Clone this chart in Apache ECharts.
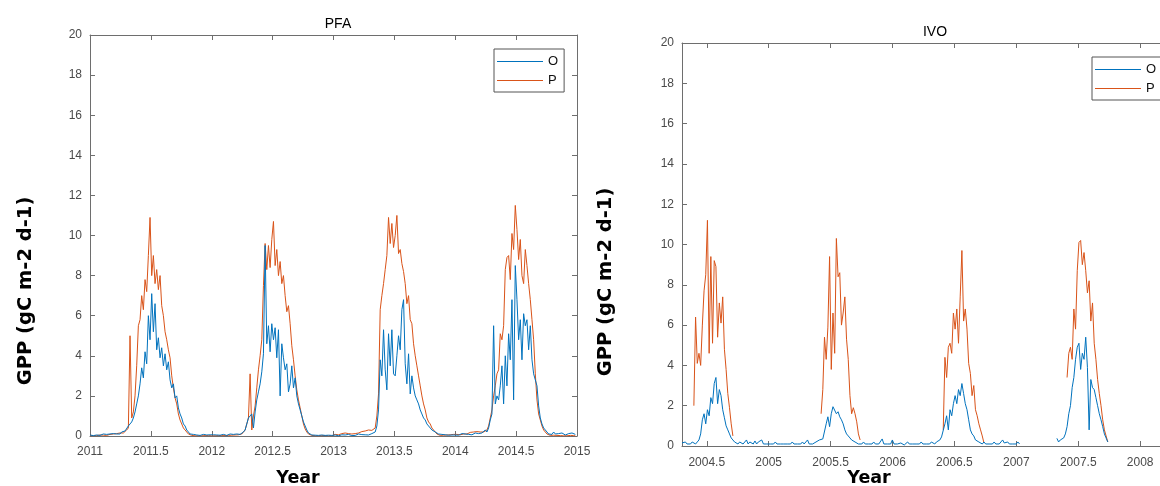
<!DOCTYPE html>
<html><head><meta charset="utf-8">
<script src="https://cdn.jsdelivr.net/npm/echarts@6/dist/echarts.min.js"></script>
<style>html,body{margin:0;padding:0;background:#fff}#c{width:1160px;height:486px}</style>
</head><body><div id="c"></div>
<script>
// sampling: one value every 5 days (1/73 year)
const step = 1 / 73;
const pfaStart = 2011;
const ivoStart = 2004.3;
const gap = n => Array(n).fill(null);

// PFA observed GPP (O)
const pfaO = [
  // 2011
  0.05,0.1,0.02,0.08,0.05,0.12,0.03,0.06,0.1,0.04,0.08,0.05,0.1,0.06,0.12,0.08,0.1,0.15,0.1,0.2,0.15,0.25,
  0.3,0.5,0.6,0.7,0.9,1.2,1.6,2.0,2.6,3.4,2.9,4.2,3.6,6.0,4.8,7.1,5.2,6.6,4.3,4.9,3.9,4.4,3.5,4.1,3.3,3.7,2.8,2.4,2.6,1.9,2.0,1.4,1.1,0.9,0.6,0.5,0.3,0.2,
  0.1,0.05,0.08,0.02,0.05,0.1,0.03,0.05,0.08,0.02,0.05,0.03,0.06,
  // 2012
  0.03,0.06,0.02,0.05,0.1,0.04,0.02,0.08,0.05,0.03,0.06,0.1,0.05,0.08,0.04,0.1,0.12,0.08,0.15,0.2,
  0.3,0.6,0.9,1.0,1.1,0.4,1.2,1.8,2.2,2.6,3.2,4.1,9.5,4.6,5.5,4.2,5.6,4.8,5.4,3.9,5.3,2.0,4.6,3.9,3.3,3.6,2.2,2.6,3.5,2.4,2.9,2.0,1.6,1.3,1.0,0.7,0.5,0.3,0.15,
  0.1,0.05,0.02,0.04,0.01,0.03,0.02,0.05,0.01,0.03,0.02,0.04,0.02,0.03,
  // 2013
  0.02,0.05,0.03,0.01,0.04,0.06,0.02,0.05,0.03,0.08,0.04,0.02,0.06,0.03,0.05,0.1,0.04,0.07,0.03,0.06,0.1,0.05,0.08,0.12,
  0.15,0.2,0.5,1.3,3.8,3.0,5.3,3.3,2.3,5.1,3.5,5.3,3.1,3.0,4.0,5.0,4.3,6.3,6.8,3.6,2.6,4.1,2.1,3.0,2.4,2.0,1.8,1.6,1.3,1.1,0.9,0.8,0.6,0.5,0.4,0.3,0.3,0.2,0.15,
  0.1,0.05,0.08,0.03,0.06,0.1,0.04,0.08,0.05,0.1,
  // 2014
  0.05,0.1,0.04,0.08,0.12,0.06,0.1,0.05,0.08,0.12,0.06,0.1,0.15,0.08,0.12,0.1,0.15,
  0.2,0.3,0.2,0.4,0.8,1.1,5.5,1.6,2.0,1.8,2.5,3.5,1.6,4.0,2.5,5.1,3.8,6.8,1.8,8.5,6.8,4.8,5.8,3.8,6.1,5.5,5.8,4.3,5.5,3.8,3.1,2.8,2.5,1.5,0.9,0.6,0.4,0.3,0.2,
  0.1,0.15,0.08,0.2,0.1,0.05,0.12,0.08,0.15,0.1,0.05,0.1,0.12,0.06,0.15,0.1,0.08
];

// PFA predicted GPP (P)
const pfaP = [
  // 2011
  0.02,0.03,0.01,0.05,0.02,0.03,0.05,0.02,0.04,0.06,0.03,0.05,0.08,0.05,0.1,0.08,0.12,0.1,0.15,0.18,0.15,0.2,
  0.3,0.4,5.0,0.9,1.2,2.0,3.5,5.5,5.8,7.0,6.3,7.8,7.2,9.0,10.9,8.0,9.0,7.6,8.3,7.3,8.0,6.5,6.0,5.2,4.8,4.3,3.9,3.0,2.4,1.9,1.6,1.1,0.8,0.6,0.4,0.3,0.2,0.1,
  0.05,0.03,0.02,0.01,0.02,0.01,0.02,0.01,0.01,0.02,0.01,0.02,0.01,
  // 2012
  0.01,0.02,0.01,0.03,0.02,0.01,0.02,0.03,0.02,0.01,0.03,0.02,0.04,0.03,0.05,0.04,0.06,0.08,0.1,0.15,
  0.3,0.6,0.9,3.1,0.3,1.0,1.5,2.4,3.3,4.0,4.8,7.5,9.6,8.3,9.5,8.4,9.8,10.7,8.5,9.3,8.0,8.7,7.6,8.0,7.0,6.2,6.5,5.6,4.5,3.8,3.0,2.3,1.8,1.4,1.0,0.6,0.35,0.2,0.1,
  0.05,0.03,0.02,0.01,0.02,0.01,0.01,0.02,0.01,0.02,0.01,0.01,0.02,0.01,
  // 2013
  0.05,0.08,0.1,0.06,0.1,0.12,0.08,0.15,0.1,0.12,0.15,0.1,0.18,0.12,0.2,0.15,0.18,0.22,0.15,0.25,0.2,0.3,0.22,0.28,
  0.3,0.4,1.0,2.1,6.3,7.0,7.6,8.3,9.0,10.9,9.6,10.6,9.4,10.0,11.0,9.1,9.3,8.6,8.2,7.6,6.6,7.0,5.8,5.6,4.6,4.0,3.5,3.0,2.5,2.0,1.6,1.3,0.9,0.7,0.6,0.4,0.3,0.2,0.1,
  0.05,0.03,0.02,0.04,0.03,0.05,0.08,0.06,0.1,0.08,
  // 2014
  0.05,0.08,0.1,0.06,0.12,0.1,0.15,0.1,0.12,0.18,0.15,0.2,0.15,0.22,0.18,0.2,0.15,
  0.2,0.25,0.3,0.5,0.9,1.3,2.0,2.5,3.1,3.3,5.1,4.8,5.5,8.3,8.9,9.0,7.8,10.1,9.3,11.5,10.3,8.8,9.8,8.0,7.6,9.3,8.5,7.6,6.8,5.8,4.8,3.1,1.8,1.1,0.8,0.5,0.3,0.2,0.1,
  0.05,0.03,0.02,0.04,0.02,0.03,0.01,0.02,0.03,0.01,0.02,0.01,0.02,0.03,0.01,0.02,0.01
];

// IVO observed GPP (O), from 2004.3
const ivoO = [
  0.15,0.1,0.2,0.1,0.15,0.1,0.2,0.15,0.1,0.2,
  0.3,0.6,1.3,1.6,1.1,1.8,1.5,2.4,2.1,3.1,3.4,2.1,2.8,2.5,1.8,1.4,1.0,0.8,0.6,0.4,0.3,
  0.2,0.15,0.1,0.2,0.25,0.1,0.15,0.3,0.1,0.2,
  0.15,0.1,0.25,0.1,0.2,0.15,0.3,0.1,0.05,0.1,
  0.15,0.1,0.05,0.1,0.2,0.1,0.05,0.1,0.15,0.1,
  0.05,0.1,0.15,0.1,0.2,0.1,0.05,0.1,0.15,0.1,
  0.2,0.1,0.15,0.3,0.1,0.05,0.1,0.15,0.2,0.25,0.3,
  0.3,0.35,0.3,1.1,1.45,0.96,1.6,1.95,2.0,1.6,1.7,1.45,1.3,1.1,0.8,0.6,0.5,0.4,0.3,0.3,0.2,0.15,
  0.1,0.15,0.1,0.2,0.1,0.05,0.1,0.15,0.1,0.2,
  0.1,0.05,0.1,0.15,0.35,0.1,0.05,0.1,0.15,0.1,
  0.3,0.1,0.05,0.1,0.1,0.15,0.1,0.05,0.1,0.2,
  0.1,0.15,0.1,0.05,0.1,0.15,0.1,0.2,0.1,0.15,
  0.1,0.05,0.1,0.2,0.15,0.1,0.2,0.15,0.3,0.45,
  0.5,1.1,1.5,0.8,1.8,1.5,2.1,2.5,2.1,2.8,2.5,3.1,2.6,2.1,1.8,1.3,0.8,0.6,0.5,0.3,0.25,0.2,
  0.15,0.1,0.2,0.1,0.15,0.1,0.05,0.1,0.2,0.1,
  0.15,0.1,0.2,0.3,0.15,0.1,0.2,0.1,0.05,0.1,
  0.15,0.1,0.2,0.1,
  ...gap(21),
  0.38,0.2,0.3,0.35,0.4,0.6,0.96,1.6,2.0,2.9,3.4,4.3,4.9,5.1,3.8,4.6,4.3,5.4,3.9,0.8,3.3,2.9,2.8,2.4,2.0,1.6,1.3,0.96,0.6,0.4,0.2,
  ...gap(40)
];

// IVO predicted GPP (P), from 2004.3
const ivoP = [
  ...gap(7),
  2.0,6.4,4.1,4.6,4.0,6.0,7.7,8.5,11.2,4.6,9.4,5.1,9.2,8.9,5.4,7.1,6.1,7.4,4.8,3.8,2.6,1.9,1.1,0.5,
  ...gap(51),
  1.6,2.8,5.4,4.3,5.9,9.4,3.8,6.6,4.6,10.3,8.4,8.6,6.0,6.6,7.4,5.3,4.3,2.5,1.6,1.9,1.6,1.2,0.6,0.3,
  ...gap(48),
  0.8,4.4,3.4,4.9,5.1,4.6,6.6,5.8,6.8,5.1,7.4,9.7,6.2,6.8,5.8,4.1,3.6,2.5,3.0,1.8,1.5,1.1,0.8,0.5,0.15,
  ...gap(48),
  3.4,4.6,4.9,4.3,6.8,5.8,8.7,10.1,10.2,9.0,9.6,8.7,7.6,8.2,6.2,7.1,5.1,4.3,3.3,2.6,2.0,1.3,0.8,0.5,0.2,
  ...gap(40)
];

const pfaXTicks = [2011, 2011.5, 2012, 2012.5, 2013, 2013.5, 2014, 2014.5, 2015];
const ivoXTicks = [2004.5, 2005, 2005.5, 2006, 2006.5, 2007, 2007.5, 2008];
const seriesNames = ['O', 'P'];
const titles = ['PFA', 'IVO'];
const yName = 'GPP (gC m-2 d-1)';
const xName = 'Year';

const toXY = (arr, start) => arr.map((v, i) => [start + i * step, v]);

const axisColor = '#6e6e6e';
const blue = '#0072BD', orange = '#D95319';
const tickLabel = { color: '#4a4a4a', fontFamily: 'Liberation Sans, Arial, sans-serif', fontSize: 12 };
const fmt = v => String(Math.round(v * 10) / 10);

function xPair(grid, min, max, ticks, margin) {
  return [
    { type: 'value', gridIndex: grid, min, max, position: 'bottom',
      axisLine: { show: true, onZero: false, lineStyle: { color: axisColor, width: 1 } },
      axisTick: { show: true, inside: true, length: 5, customValues: ticks, lineStyle: { color: axisColor } },
      axisLabel: Object.assign({ margin, customValues: ticks, formatter: fmt }, tickLabel),
      splitLine: { show: false } },
    { type: 'value', gridIndex: grid, min, max, position: 'top',
      axisLine: { show: true, onZero: false, lineStyle: { color: axisColor, width: 1 } },
      axisTick: { show: true, inside: true, length: 5, customValues: ticks, lineStyle: { color: axisColor } },
      axisLabel: { show: false }, splitLine: { show: false } }
  ];
}
function yPair(grid, showRight) {
  return [
    { type: 'value', gridIndex: grid, min: 0, max: 20, interval: 2, position: 'left',
      axisLine: { show: true, lineStyle: { color: axisColor, width: 1 } },
      axisTick: { show: true, inside: true, length: 5, lineStyle: { color: axisColor } },
      axisLabel: Object.assign({ margin: 8 }, tickLabel),
      splitLine: { show: false } },
    { type: 'value', gridIndex: grid, min: 0, max: 20, interval: 2, position: 'right', show: showRight,
      axisLine: { show: true, lineStyle: { color: axisColor, width: 1 } },
      axisTick: { show: true, inside: true, length: 5, lineStyle: { color: axisColor } },
      axisLabel: { show: false }, splitLine: { show: false } }
  ];
}
function line(name, data, color, xi, yi) {
  return { type: 'line', name, data, xAxisIndex: xi, yAxisIndex: yi, showSymbol: false, symbol: 'none',
    connectNulls: false, clip: true, animation: false,
    lineStyle: { width: 1, color }, itemStyle: { color } };
}
function legendAt(left, top) {
  return { data: seriesNames, left, top, orient: 'vertical', icon: 'rect', itemWidth: 46, itemHeight: 1.2,
    itemGap: 6, padding: [6, 6, 5, 3], borderColor: '#555', borderWidth: 1, backgroundColor: '#fff',
    selectedMode: false,
    textStyle: { fontFamily: 'Liberation Sans, Arial, sans-serif', fontSize: 13, color: '#111' } };
}
function axisTitle(text, x, y, rotate, size) {
  return { type: 'text', x, y, rotation: rotate ? Math.PI / 2 : 0, silent: true,
    style: { text, fill: '#000', font: 'bold ' + size + 'px "DejaVu Sans", sans-serif',
      align: 'center', verticalAlign: 'middle', textAlign: 'center', textVerticalAlign: 'middle' } };
}

const chart = echarts.init(document.getElementById('c'), null, { renderer: 'canvas' });
chart.setOption({
  backgroundColor: '#fff',
  animation: false,
  title: [
    { text: titles[0], left: 333, top: 12, textAlign: 'center',
      textStyle: { fontSize: 14, fontWeight: 'normal', fontFamily: 'Liberation Sans, Arial, sans-serif', color: '#000' } },
    { text: titles[1], left: 930, top: 20, textAlign: 'center',
      textStyle: { fontSize: 14, fontWeight: 'normal', fontFamily: 'Liberation Sans, Arial, sans-serif', color: '#000' } }
  ],
  legend: [legendAt(494, 49), legendAt(1092, 57)],
  grid: [
    { left: 90, top: 35, width: 487, height: 401, containLabel: false },
    { left: 682, top: 43, width: 478, height: 403, containLabel: false }
  ],
  xAxis: [...xPair(0, 2011, 2015, pfaXTicks, 10), ...xPair(1, 2004.3, 2008.16, ivoXTicks, 11)],
  yAxis: [...yPair(0, true), ...yPair(1, false)],
  graphic: [
    axisTitle(yName, 26, 291, true, 19.5),
    axisTitle(yName, 606, 282, true, 19.5),
    axisTitle(xName, 298, 478, false, 17.5),
    axisTitle(xName, 869, 478, false, 17.5)
  ],
  series: [
    line(seriesNames[1], toXY(pfaP, pfaStart), orange, 0, 0),
    line(seriesNames[0], toXY(pfaO, pfaStart), blue, 0, 0),
    line(seriesNames[1], toXY(ivoP, ivoStart), orange, 2, 2),
    line(seriesNames[0], toXY(ivoO, ivoStart), blue, 2, 2)
  ]
});
</script></body></html>
